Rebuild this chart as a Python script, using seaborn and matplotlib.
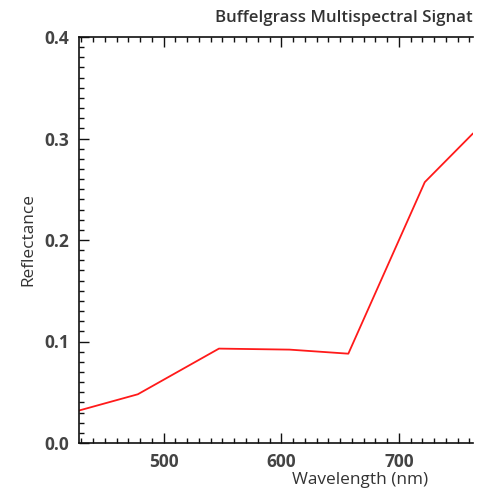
import matplotlib
matplotlib.use("Agg")
import matplotlib.pyplot as plt
from matplotlib.ticker import MultipleLocator
import seaborn as sns
import pandas as pd

wavelength = [428, 478, 547, 607, 657, 722, 763]
reflectance = [0.032, 0.048, 0.093, 0.092, 0.088, 0.257, 0.305]
x_ticks = [500, 600, 700]
y_ticks = [0.0, 0.1, 0.2, 0.3, 0.4]
title_text = "Buffelgrass Multispectral Signat"

sns.set_theme(style="white")
plt.rcParams['font.family'] = ['Open Sans', 'DejaVu Sans']

df = pd.DataFrame({"Wavelength": wavelength, "Reflectance": reflectance})

fig = plt.figure(figsize=(4.81, 4.95), dpi=100)
ax = fig.add_axes([79/481, 1-443/495, (473-79)/481, (443-37)/495])
sns.lineplot(data=df, x="Wavelength", y="Reflectance", ax=ax, color="#ff1a1a", lw=1.3)

ax.set_xlim(min(wavelength), max(wavelength))
ax.set_ylim(0, 0.4)
ax.set_xticks(x_ticks)
ax.set_yticks(y_ticks)
ax.set_yticklabels([f"{v:.1f}" for v in y_ticks])
ax.xaxis.set_minor_locator(MultipleLocator(10))
ax.yaxis.set_minor_locator(MultipleLocator(0.01))

for s in ["left", "bottom", "top"]:
    ax.spines[s].set_visible(True)
    ax.spines[s].set_color("#111111")
    ax.spines[s].set_linewidth(1.2)
ax.spines["right"].set_visible(False)

ax.tick_params(axis="both", which="both", direction="in", colors="#111111",
               top=True, bottom=True, left=True, right=False, labeltop=False)
ax.tick_params(which="major", length=7, width=1)
ax.tick_params(which="minor", length=3.5, width=1)
ax.tick_params(axis="both", which="major", labelcolor="#444444", labelsize=12.5)
ax.tick_params(axis="x", which="major", pad=7)
ax.tick_params(axis="y", which="major", pad=7)
for lab in ax.get_xticklabels() + ax.get_yticklabels():
    lab.set_fontweight("bold")

ax.set_xlabel("Wavelength (nm)", fontsize=12.4, color="#333333")
ax.xaxis.set_label_coords((360-79)/394, (443-480)/406)
ax.xaxis.label.set_va("center")
ax.set_ylabel("Reflectance", fontsize=12.4, color="#333333")
ax.yaxis.set_label_coords((28-79)/394, 0.5)
ax.yaxis.label.set_va("center")

fig.text(473/481, 1-18/495, title_text, fontsize=12.2,
         color="#333333", ha="right", va="center", fontweight="semibold")

fig.savefig("out.png", dpi=100)
